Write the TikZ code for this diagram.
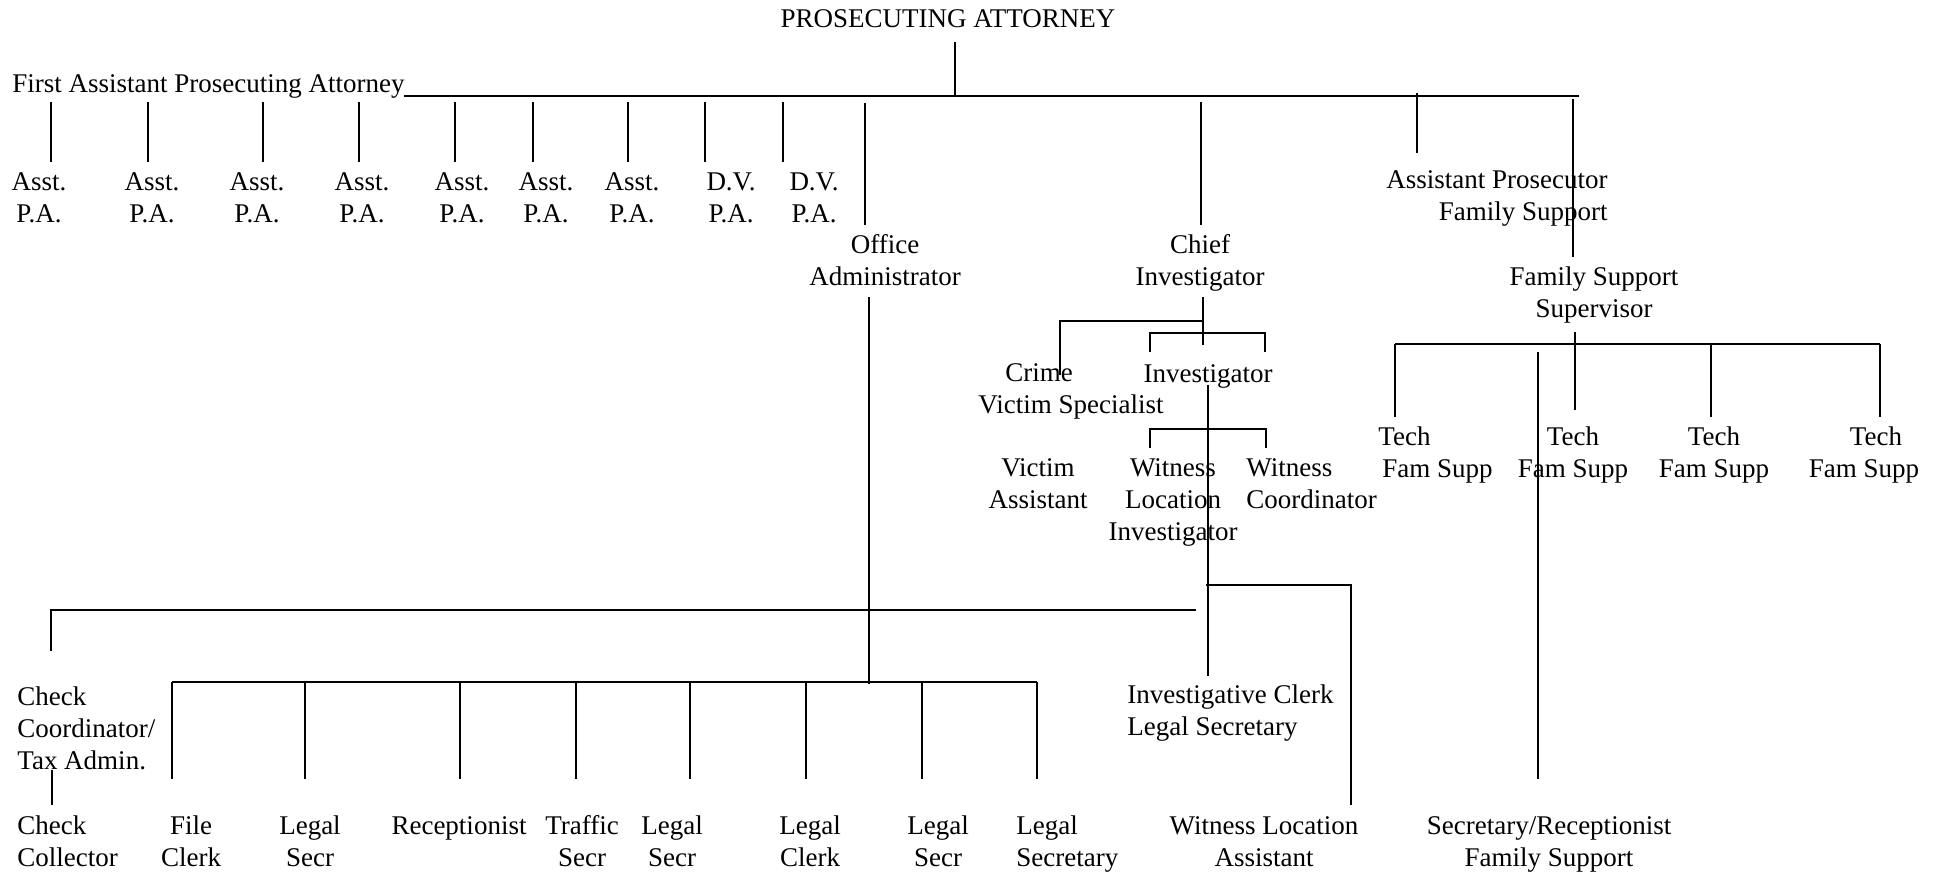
\documentclass[tikz,border=0pt]{standalone}
\usepackage{fontspec}
\setmainfont{Liberation Serif}
\begin{document}
\begin{tikzpicture}[x=0.5pt,y=-0.5pt,
  lbl/.style={inner sep=0pt, align=center, anchor=base, font=\fontsize{13.5}{16}\selectfont},
  lbll/.style={lbl, align=left, anchor=base west},
  lblr/.style={lbl, align=right, anchor=base east},
  conn/.style={draw=black, line width=0.9pt}]
\fill[white] (0,0) rectangle (1936,875);
\useasboundingbox (0,0) rectangle (1936,875);

% ---------- nodes (y = baseline of the last line) ----------
\node[lbl] (pa) at (948,27) {PROSECUTING ATTORNEY};
\node[lbll] (fapa) at (12,92) {First Assistant Prosecuting Attorney};
\node[lbl] (pa1) at (39,222) {Asst.\\P.A.};
\node[lbl] (pa2) at (152,222) {Asst.\\P.A.};
\node[lbl] (pa3) at (257,222) {Asst.\\P.A.};
\node[lbl] (pa4) at (362,222) {Asst.\\P.A.};
\node[lbl] (pa5) at (462,222) {Asst.\\P.A.};
\node[lbl] (pa6) at (546,222) {Asst.\\P.A.};
\node[lbl] (pa7) at (632,222) {Asst.\\P.A.};
\node[lbl] (pa8) at (731,222) {D.V.\\P.A.};
\node[lbl] (pa9) at (814,222) {D.V.\\P.A.};
\node[lbl] (oa) at (885,285) {Office\\Administrator};
\node[lbl] (ci) at (1200,285) {Chief\\Investigator};
\node[lblr] (apfs) at (1608,220) {Assistant Prosecutor\\Family Support};
\node[lbl] (fss) at (1594,317) {Family Support\\Supervisor};
\node[lbll] (cvs) at (978,413) {\hspace*{13.5pt}Crime\\Victim Specialist};
\node[lbl] (inv) at (1208,382) {Investigator};
\node[lbl] (va) at (1038,508) {Victim\\Assistant};
\node[lbl] (wli) at (1173,540) {Witness\\Location\\Investigator};
\node[lbll] (wc) at (1246,508) {Witness\\Coordinator};
\node[lbll] (tech1) at (1378,477) {Tech\\\hspace*{2pt}Fam Supp};
\node[lbl] (tech2) at (1573,477) {Tech\\Fam Supp};
\node[lbl] (tech3) at (1714,477) {Tech\\Fam Supp};
\node[lbl] (tech4) at (1864,477) {\hspace*{12pt}Tech\\Fam Supp};
\node[lbll] (ccta) at (17,769) {Check\\Coordinator/\\Tax Admin.};
\node[lbll] (icls) at (1127,735) {Investigative Clerk\\Legal Secretary};
\node[lbll] (cc) at (17,866) {Check\\Collector};
\node[lbl] (fc) at (191,866) {File\\Clerk};
\node[lbl] (ls1) at (310,866) {Legal\\Secr};
\node[lbl] (rec) at (459,834) {Receptionist};
\node[lbl] (ts) at (582,866) {Traffic\\Secr};
\node[lbl] (ls2) at (672,866) {Legal\\Secr};
\node[lbl] (lc) at (810,866) {Legal\\Clerk};
\node[lbl] (ls3) at (938,866) {Legal\\Secr};
\node[lbll] (ls4) at (1016,866) {Legal\\Secretary};
\node[lbl] (wla) at (1264,866) {Witness Location\\Assistant};
\node[lbl] (srfs) at (1549,866) {Secretary/Receptionist\\Family Support};

% ---------- connectors ----------
\draw[conn] (955,42) -- (955,97);
\draw[conn] (404,96) -- (1579,96);
\foreach \x in {51,148,263,359,455,533,628,705,783}
  \draw[conn] (\x,102) -- (\x,162);
\draw[conn] (865,103) -- (865,225);
\draw[conn] (1201,102) -- (1201,225);
\draw[conn] (1417,93) -- (1417,153);
\draw[conn] (1573,99) -- (1573,257);
% office administrator
\draw[conn] (869,297) -- (869,684);
% chief investigator
\draw[conn] (1203,297) -- (1203,345);
\draw[conn] (1203,321) -- (1060,321) -- (1060,375);
\draw[conn] (1150,352) -- (1150,333) -- (1265,333) -- (1265,352);
\draw[conn] (1208,385) -- (1208,676);
\draw[conn] (1150,448) -- (1150,429) -- (1266,429) -- (1266,448);
\draw[conn] (1206,585) -- (1351,585) -- (1351,805);
% big horizontal
\draw[conn] (51,651) -- (51,610) -- (1196,610);
% office staff
\draw[conn] (172,682) -- (1037,682);
\foreach \x in {172,305,460,576,690,806,922,1037}
  \draw[conn] (\x,682) -- (\x,779);
\draw[conn] (52,770) -- (52,805);
% family support
\draw[conn] (1395,344) -- (1880,344);
\foreach \x in {1395,1711,1880}
  \draw[conn] (\x,344) -- (\x,417);
\draw[conn] (1575,332) -- (1575,410);
\draw[conn] (1538,352) -- (1538,779);
\end{tikzpicture}
\end{document}
